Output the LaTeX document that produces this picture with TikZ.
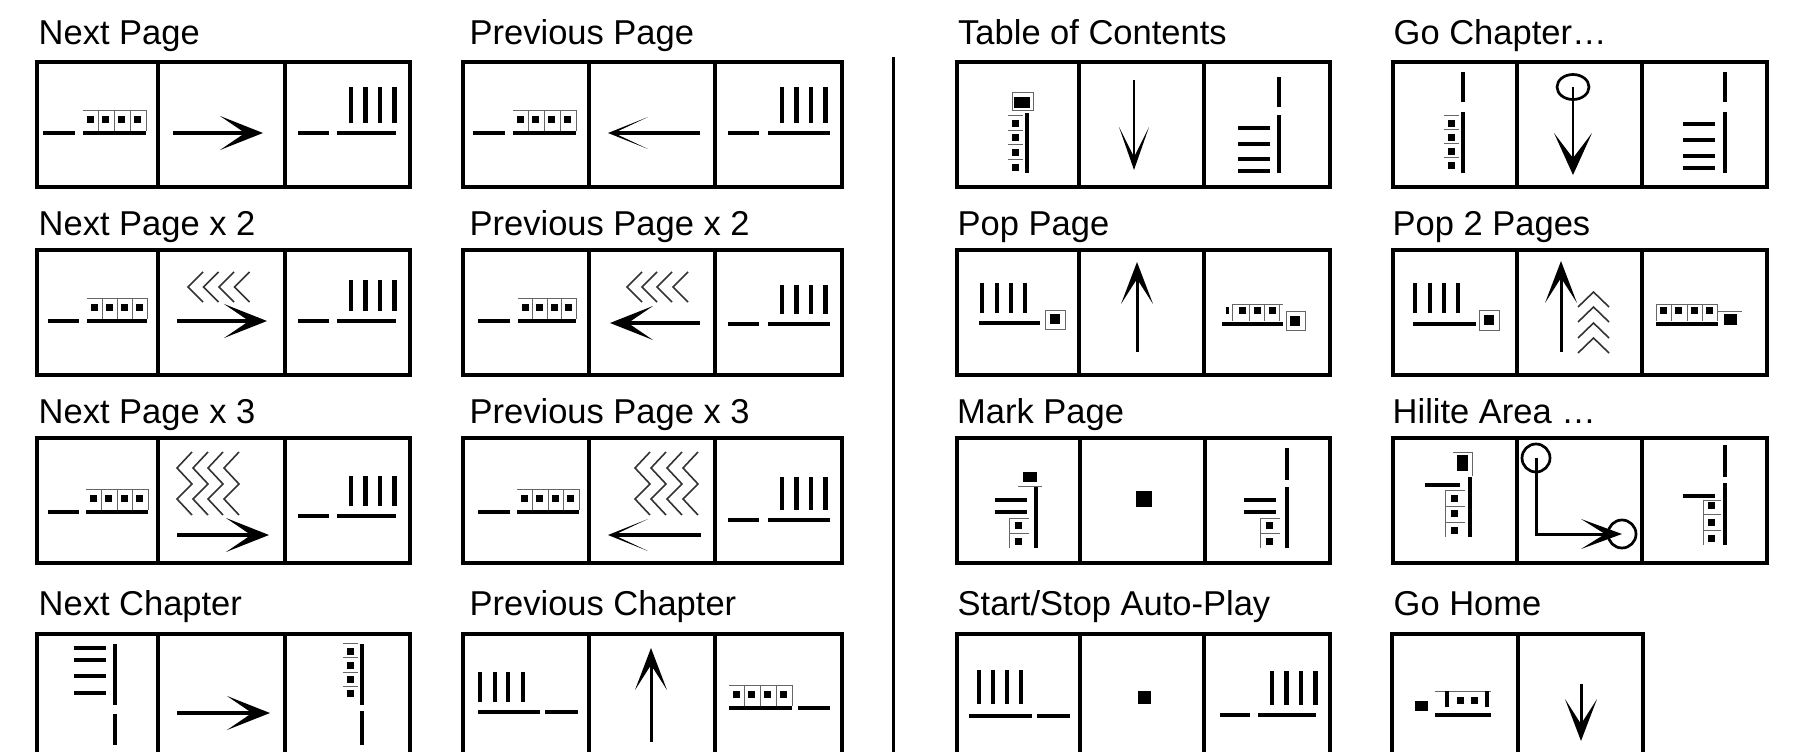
\documentclass[tikz,border=0pt]{standalone}
\usepackage{fontspec}
\setmainfont{Liberation Sans}
\usetikzlibrary{arrows.meta}
\tikzset{
  cellbox/.style={draw, line width=3.2pt, minimum height=125pt, inner sep=0pt, outer sep=0pt},
  ttl/.style={anchor=base west, inner sep=0pt, font=\fontsize{34.5}{40}\selectfont},
  tbar/.style={line width=4.5pt},
  thinl/.style={line width=0.9pt, black!60},
  chev/.style={line width=1.6pt, black!80},
  hshaft/.style={line width=4.2pt},
  vshaft/.style={line width=3pt},
  wideS/.style={-{Stealth[length=43pt,width=34pt,inset=25pt,line width=0pt]}},
  thinS/.style={-{Stealth[length=40pt,width=32pt,inset=34pt,line width=0pt]}},
  tocS/.style={-{Stealth[length=43pt,width=30pt,inset=30pt,line width=0pt]}},
  gcS/.style={-{Stealth[length=42pt,width=38pt,inset=25pt,line width=0pt]}},
  popS/.style={-{Stealth[length=42pt,width=32pt,inset=25pt,line width=0pt]}},
  hlS/.style={-{Stealth[length=41pt,width=30pt,inset=24pt,line width=0pt]}},
}
\newcommand\cellnode[4]{\node[cellbox, minimum width={(#3-#2)*1pt}] (#1) at ({(#2+#3)/2},{#4+62.5}) {};}
\newcommand\trio[6]{\cellnode{#1a}{#2}{#3}{#6}\cellnode{#1b}{#3}{#4}{#6}\cellnode{#1c}{#4}{#5}{#6}}
\newcommand\icon[2]{\begin{scope}[shift={(#1.north west)}]#2\end{scope}}
\newcommand\SQ[4]{\fill ({#1-#3/2},{#2-#4/2}) rectangle ({#1+#3/2},{#2+#4/2});}
\newcommand\TB[4]{\draw[tbar] (#1,#2) -- (#3,#4);}
% horizontal page with four items: x start, y, length
\newcommand\HP[3]{%
  \draw[tbar] (#1,#2) -- ++(#3,0);
  \draw[thinl] (#1,{#2-23}) -- ++(#3,0);
  \foreach \k in {0,...,3}{%
    \draw[thinl] ({#1+#3/4*(\k+1)},{#2-23}) -- ++(0,21);
    \SQ{#1+#3/4*\k+7}{#2-14}{7}{7}
  }}
% horizontal bar with four vertical bars: x start, y, length, bar top offset
\newcommand\HB[4]{%
  \draw[tbar] (#1,#2) -- ++(#3,0);
  \foreach \d in {14,28.5,43,57.5}{\draw[tbar] ({#1+\d},{#2-#4}) -- ({#1+\d},{#2-10});}}
% vertical page: x, y top, y bottom, first square y, step
\newcommand\VP[5]{%
  \draw[tbar] (#1,#2) -- (#1,#3);
  \foreach \k in {0,...,3}{%
    \SQ{#1-12}{#4+#5*\k}{7}{7}
    \draw[thinl] ({#1-19},{#4-7.5+#5*\k}) -- ({#1-4},{#4-7.5+#5*\k});
  }}
\begin{document}
\begin{tikzpicture}[x=1pt,y=-1pt]
\useasboundingbox (0,0) rectangle (1794,752);
\clip (0,0) rectangle (1794,752);
% titles
\node[ttl] (tNP)   at (38.5,45)  {Next Page};
\node[ttl] (tPP)   at (469.5,45) {Previous Page};
\node[ttl] (tTOC)  at (958,45)   {Table of Contents};
\node[ttl] (tGC)   at (1393.5,45){Go Chapter…};
\node[ttl] (tNP2)  at (38.5,235) {Next Page x 2};
\node[ttl] (tPP2)  at (469.5,235){Previous Page x 2};
\node[ttl] (tPOP)  at (957.5,235){Pop Page};
\node[ttl] (tPOP2) at (1392.5,235){Pop 2 Pages};
\node[ttl] (tNP3)  at (38.5,423) {Next Page x 3};
\node[ttl] (tPP3)  at (469.5,423){Previous Page x 3};
\node[ttl] (tMK)   at (957,423)  {Mark Page};
\node[ttl] (tHL)   at (1392.5,423){Hilite Area …};
\node[ttl] (tNC)   at (38.5,615) {Next Chapter};
\node[ttl] (tPC)   at (469.5,615){Previous Chapter};
\node[ttl] (tSS)   at (957.5,615){Start/Stop Auto-Play};
\node[ttl] (tGH)   at (1393.5,615){Go Home};
% cells
\trio{NP}{37}{158}{285}{410}{62}
\trio{PP}{463}{589}{715}{842}{62}
\trio{TOC}{957}{1079}{1204}{1330}{62}
\trio{GC}{1393}{1517}{1642}{1767}{62}
\trio{NPtwo}{37}{158}{285}{410}{250}
\trio{PPtwo}{463}{589}{715}{842}{250}
\trio{POP}{957}{1079}{1204}{1330}{250}
\trio{POPtwo}{1393}{1517}{1642}{1767}{250}
\trio{NPthree}{37}{158}{285}{410}{438}
\trio{PPthree}{463}{589}{715}{842}{438}
\trio{MK}{957}{1080}{1205}{1330}{438}
\trio{HL}{1393}{1517}{1642}{1767}{438}
\trio{NC}{37}{158}{285}{410}{634}
\trio{PC}{463}{589}{715}{842}{634}
\trio{SS}{957}{1080}{1204}{1330}{634}
\cellnode{GHa}{1392}{1518}{634}
\cellnode{GHb}{1518}{1643}{634}
% separator
\coordinate (sepTop) at (893,57);
\coordinate (sepBot) at (893,760);
\draw[line width=3pt] (sepTop) -- (sepBot);
% ---- row 1
\icon{NPa}{\TB{6}{71}{38}{71} \HP{46}{71}{63}}
\icon{NPb}{\draw[hshaft,wideS] (15,71) -- (105,71);}
\icon{NPc}{\TB{13}{71}{44}{71} \HB{52}{71}{59}{46}}
\icon{PPa}{\TB{10}{71}{42}{71} \HP{50}{71}{63}}
\icon{PPb}{\draw[hshaft,thinS] (111,71) -- (19,71);}
\icon{PPc}{\TB{13}{71}{44}{71} \HB{53}{71}{62}{46}}
\icon{TOCa}{\VP{70}{51}{111}{61}{14.7}
  \draw[thinl] (55,30) rectangle (76,48); \SQ{65}{40}{16}{11}}
\icon{TOCb}{\draw[line width=2.7pt,tocS] (55,18) -- (55,108);}
\icon{TOCc}{\TB{75}{15}{75}{45} \TB{75}{53}{75}{111}
  \foreach \y in {66,82,97,109}{\TB{34}{\y}{66}{\y}}}
\icon{GCa}{\TB{70}{10}{70}{40} \VP{70}{50}{111}{61}{14}}
\icon{GCb}{\draw[line width=2.7pt] (56,25) ellipse [x radius=16pt, y radius=12.5pt];
  \draw[line width=2.7pt,gcS] (56,25) -- (56,113);}
\icon{GCc}{\TB{83}{10}{83}{40} \TB{83}{50}{83}{111}
  \foreach \y in {62,78,94,106}{\TB{41}{\y}{73}{\y}}}
% ---- row 2
\icon{NPtwoa}{\TB{11}{71}{42}{71} \HP{50}{71}{60}}
\icon{NPtwob}{\foreach \x in {30,45.5,61,76.5}{\draw[chev] ({\x+15},22) -- (\x,37) -- ({\x+15},52);}
  \draw[hshaft,wideS] (19,71) -- (109,71);}
\icon{NPtwoc}{\TB{13}{71}{44}{71} \HB{52}{71}{59}{41}}
\icon{PPtwoa}{\TB{15}{71}{47}{71} \HP{55}{71}{58}}
\icon{PPtwob}{\foreach \x in {38,53,68,84}{\draw[chev] ({\x+15},22) -- (\x,37) -- ({\x+15},52);}
  \draw[hshaft,wideS] (111,73) -- (21,73);}
\icon{PPtwoc}{\TB{13}{74}{44}{74} \HB{53}{74}{62}{39}}
\icon{POPa}{\foreach \x in {25,40,54,68}{\TB{\x}{33}{\x}{63}} \TB{22}{73}{83}{73}
  \draw[thinl] (88,60) rectangle (108,79); \SQ{98}{69}{10}{10}}
\icon{POPb}{\draw[vshaft,popS] (58,102) -- (58,12);}
\icon{POPc}{\TB{18}{74}{79}{74} \SQ{23}{60}{3}{7}
  \foreach \x in {38,53,68}{\SQ{\x}{60}{7}{7}}
  \draw[thinl] (28,54) -- (79,54);
  \foreach \x in {28,45,60,75}{\draw[thinl] (\x,54) -- (\x,71);}
  \draw[thinl] (82,61) rectangle (101,80); \SQ{91}{71}{10}{10}}
\icon{POPtwoa}{\foreach \x in {22,37,51,65}{\TB{\x}{33}{\x}{63}} \TB{20}{74}{83}{74}
  \draw[thinl] (86,60) rectangle (106,80); \SQ{96}{70}{10}{10}}
\icon{POPtwob}{\draw[vshaft,popS] (44,102) -- (44,11);
  \foreach \y in {42,57,73,88}{\draw[chev] (61,{\y+15}) -- (76.5,\y) -- (92,{\y+15});}}
\icon{POPtwoc}{\TB{14}{74}{76}{74} \draw[thinl] (14,54) -- (76,54);
  \foreach \x in {14,29,45,60,75}{\draw[thinl] (\x,54) -- (\x,71);}
  \foreach \x in {21,36,52,67}{\SQ{\x}{60}{7}{7}}
  \draw[thinl] (76,61) -- (100,61); \SQ{88}{69}{13}{11}}
% ---- row 3
\icon{NPthreea}{\TB{11}{74}{42}{74} \HP{49}{74}{62}}
\icon{NPthreeb}{\foreach \x in {19,35,50,66}{\draw[chev] ({\x+15},14) -- (\x,30) -- ({\x+15},46) -- (\x,61) -- ({\x+15},77);}
  \draw[hshaft,wideS] (19,97) -- (111,97);}
\icon{NPthreec}{\TB{13}{78}{44}{78} \HB{52}{78}{59}{40}}
\icon{PPthreea}{\TB{15}{74}{47}{74} \HP{54}{74}{62}}
\icon{PPthreeb}{\foreach \x in {46,62,78,94}{\draw[chev] ({\x+15},14) -- (\x,30) -- ({\x+15},46) -- (\x,61) -- ({\x+15},77);}
  \draw[hshaft,thinS] (112,97) -- (19,97);}
\icon{PPthreec}{\TB{13}{82}{44}{82} \HB{53}{82}{62}{43}}
\icon{MKa}{\TB{79}{48}{79}{110} \SQ{73}{39}{14}{10} \draw[thinl] (61,48) -- (85,48);
  \TB{38}{62}{70}{62} \TB{38}{74}{70}{74}
  \SQ{61}{87}{7}{7} \SQ{61}{103}{7}{7}
  \draw[thinl] (52,80) -- (52,110); \draw[thinl] (52,95) -- (72,95); \draw[thinl] (52,80) -- (72,80);}
\icon{MKb}{\SQ{64}{61}{16}{16}}
\icon{MKc}{\TB{82}{10}{82}{42} \TB{82}{49}{82}{110}
  \TB{39}{62}{71}{62} \TB{39}{74}{71}{74}
  \SQ{64}{87}{7}{7} \SQ{64}{103}{7}{7}
  \draw[thinl] (55,80) -- (55,110); \draw[thinl] (55,95) -- (75,95); \draw[thinl] (55,80) -- (75,80);}
\icon{HLa}{\SQ{69.5}{25}{11}{16} \draw[thinl] (60,14) -- (79,14) -- (79,38);
  \TB{77}{39}{77}{99} \TB{32}{47}{67}{47}
  \foreach \y in {60,75,92}{\SQ{61}{\y}{7}{7}}
  \draw[thinl] (52,52) -- (52,99);
  \foreach \y in {52,68,84}{\draw[thinl] (52,\y) -- (72,\y);}}
\icon{HLb}{\draw[line width=2.7pt] (19,20) circle[radius=14pt];
  \draw[line width=2.7pt] (105,96) circle[radius=14pt];
  \draw[vshaft,hlS] (19,20) -- (19,96) -- (105,96);}
\icon{HLc}{\TB{83}{7}{83}{39} \TB{83}{45}{83}{107} \TB{41}{58}{73}{58}
  \foreach \y in {67,84,100}{\SQ{69}{\y}{7}{7}}
  \draw[thinl] (61,62) -- (61,107);
  \foreach \y in {62,76,92}{\draw[thinl] (61,\y) -- (79,\y);}}
% ---- row 4
\icon{NCa}{\foreach \y in {14,26,42,59}{\TB{37}{\y}{69}{\y}} \TB{78}{10}{78}{71} \TB{78}{80}{78}{111}}
\icon{NCb}{\draw[hshaft,wideS] (19,79) -- (112,79);}
\icon{NCc}{\VP{77}{10}{71}{17}{14.3} \TB{77}{77}{77}{111}}
\icon{PCa}{\foreach \x in {17,32,45,60}{\TB{\x}{38}{\x}{68}} \TB{15}{78}{77}{78} \TB{82}{78}{115}{78}}
\icon{PCb}{\draw[vshaft,popS] (62,108) -- (62,14);}
\icon{PCc}{\HP{14}{74}{63} \TB{83}{74}{115}{74}}
\icon{SSa}{\foreach \x in {22,36,50,64}{\TB{\x}{36}{\x}{70}} \TB{12}{82}{75}{82} \TB{80}{82}{113}{82}}
\icon{SSb}{\SQ{64}{63}{13}{13}}
\icon{SSc}{\TB{16}{81}{46}{81} \HB{54}{81}{58}{44}}
\icon{GHa}{\SQ{29}{72}{13}{10} \TB{43}{81}{99}{81}
  \draw[thinl] (43,57) -- (99,57);
  \TB{55}{57}{55}{73} \TB{95}{57}{95}{73}
  \SQ{68}{66}{7}{7} \SQ{82}{66}{7}{7}}
\icon{GHb}{\draw[vshaft,popS] (63,50) -- (63,107);}
\end{tikzpicture}
\end{document}
